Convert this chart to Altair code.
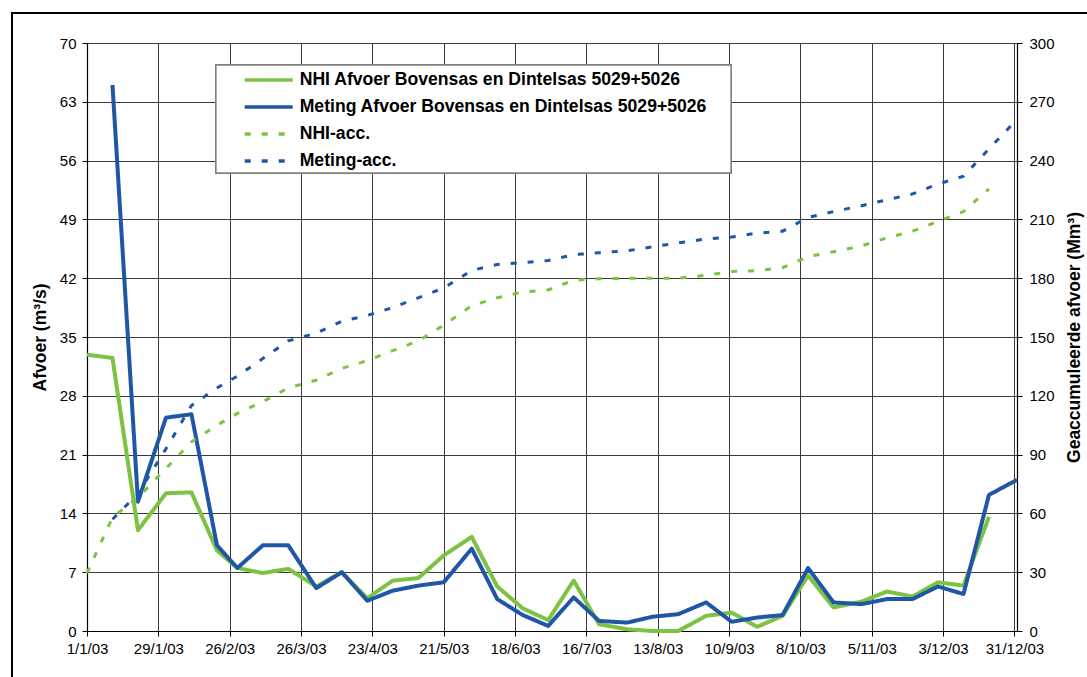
import altair as alt
import pandas as pd

GREEN = "#7DC242"
BLUE = "#1F57A6"
FONT = "Liberation Sans"

# Dekad dates (1st, 11th, 21st of every month)
nhi_dates = [
    "2003/01/01", "2003/01/11", "2003/01/21", "2003/02/01", "2003/02/11", "2003/02/21",
    "2003/03/01", "2003/03/11", "2003/03/21", "2003/04/01", "2003/04/11", "2003/04/21",
    "2003/05/01", "2003/05/11", "2003/05/21", "2003/06/01", "2003/06/11", "2003/06/21",
    "2003/07/01", "2003/07/11", "2003/07/21", "2003/08/01", "2003/08/11", "2003/08/21",
    "2003/09/01", "2003/09/11", "2003/09/21", "2003/10/01", "2003/10/11", "2003/10/21",
    "2003/11/01", "2003/11/11", "2003/11/21", "2003/12/01", "2003/12/11", "2003/12/21",
]
meting_dates = nhi_dates[1:] + ["2004/01/01"]

# Discharge (m3/s)
nhi_afvoer = [
    32.9, 32.5, 12.0, 16.4, 16.5, 9.6, 7.5, 6.9, 7.4, 5.3, 7.0, 3.9,
    6.0, 6.3, 9.0, 11.2, 5.3, 2.7, 1.3, 6.0, 0.8, 0.2, 0.0, 0.0,
    1.8, 2.2, 0.5, 1.8, 6.6, 2.8, 3.5, 4.7, 4.1, 5.8, 5.4, 13.6,
]
meting_afvoer = [
    65.0, 15.4, 25.4, 25.8, 10.2, 7.5, 10.2, 10.2, 5.1, 7.0, 3.6, 4.8,
    5.4, 5.8, 9.8, 3.8, 1.9, 0.6, 4.0, 1.2, 1.0, 1.7, 2.0, 3.4,
    1.1, 1.6, 1.9, 7.5, 3.4, 3.2, 3.8, 3.8, 5.3, 4.4, 16.2, 18.0,
]

# Accumulated discharge (Mm3)
nhi_acc = [
    29.5, 58.0, 68.0, 83.0, 96.5, 105.0, 111.0, 117.0, 124.0, 128.0, 134.0, 138.0,
    143.0, 148.0, 156.0, 166.0, 170.0, 173.0, 174.0, 179.0, 179.7, 180.0, 180.0, 180.0,
    181.5, 183.4, 183.8, 185.4, 191.0, 193.5, 196.5, 200.6, 204.0, 209.0, 214.0, 225.6,
]
meting_acc = [
    57.0, 70.0, 93.0, 115.0, 124.0, 130.0, 139.0, 148.0, 152.0, 158.0, 161.0, 165.0,
    170.0, 175.0, 184.0, 187.0, 188.0, 189.0, 192.0, 193.0, 194.0, 196.0, 198.0, 200.0,
    201.0, 203.0, 204.0, 211.0, 214.0, 217.0, 220.0, 223.0, 228.0, 232.0, 246.0, 261.0,
]

NHI_Q = "NHI Afvoer Bovensas en Dintelsas 5029+5026"
MET_Q = "Meting Afvoer Bovensas en Dintelsas 5029+5026"
NHI_ACC = "NHI-acc."
MET_ACC = "Meting-acc."
series_order = [NHI_Q, MET_Q, NHI_ACC, MET_ACC]

# Axis ticks every 28 days
tick_dates = [(2003, 1, 1), (2003, 1, 29), (2003, 2, 26), (2003, 3, 26), (2003, 4, 23),
              (2003, 5, 21), (2003, 6, 18), (2003, 7, 16), (2003, 8, 13), (2003, 9, 10),
              (2003, 10, 8), (2003, 11, 5), (2003, 12, 3), (2003, 12, 31)]
left_ticks = list(range(0, 71, 7))
right_ticks = list(range(0, 301, 30))

afvoer = pd.DataFrame({
    "datum": nhi_dates + meting_dates,
    "waarde": nhi_afvoer + meting_afvoer,
    "reeks": [NHI_Q] * len(nhi_afvoer) + [MET_Q] * len(meting_afvoer),
})
geacc = pd.DataFrame({
    "datum": nhi_dates + meting_dates,
    "waarde": nhi_acc + meting_acc,
    "reeks": [NHI_ACC] * len(nhi_acc) + [MET_ACC] * len(meting_acc),
})

x_enc = alt.X(
    "datum:T",
    title=None,
    scale=alt.Scale(domain=[alt.DateTime(year=2003, month=1, date=1),
                            alt.DateTime(year=2004, month=1, date=1)], nice=False),
    axis=alt.Axis(
        values=[alt.DateTime(year=y, month=m, date=d) for y, m, d in tick_dates],
        format="%-d/%-m/%y", grid=True, labelPadding=5, labelFlush=False,
        labelOverlap=False,
    ),
)

legend = alt.Legend(
    title=None, orient="none", legendX=155.7, legendY=23.6,
    symbolType="stroke", symbolSize=2300, symbolStrokeWidth=3.6,
    clipHeight=26.8, rowPadding=0, padding=0, labelOffset=5,
    labelFont=FONT, labelFontSize=17.6, labelFontWeight="bold", labelColor="black",
    labelLimit=800, direction="vertical",
)

color_enc = alt.Color("reeks:N", scale=alt.Scale(domain=series_order,
                                                 range=[GREEN, BLUE, GREEN, BLUE]),
                      legend=legend)
dash_enc = alt.StrokeDash("reeks:N", scale=alt.Scale(domain=series_order,
                                                     range=[[1, 0], [1, 0], [6, 11], [6, 11]]),
                          legend=legend)

afvoer_lines = alt.Chart(afvoer).mark_line(strokeWidth=4, strokeJoin="round").encode(
    x=x_enc,
    y=alt.Y("waarde:Q",
            scale=alt.Scale(domain=[0, 70], nice=False),
            axis=alt.Axis(values=left_ticks, title="Afvoer (m³/s)", grid=True,
                          titleX=-47, titleBaseline="middle", titleAngle=270,
                          labelPadding=6)),
    color=color_enc,
    strokeDash=dash_enc,
    detail="reeks:N",
)

acc_lines = alt.Chart(geacc).mark_line(strokeWidth=3, strokeCap="butt").encode(
    x=x_enc,
    y=alt.Y("waarde:Q",
            scale=alt.Scale(domain=[0, 300], nice=False),
            axis=alt.Axis(orient="right", values=right_ticks, grid=False,
                          title="Geaccumuleerde afvoer (Mm³)", titleAngle=270,
                          titleX=57, titleBaseline="middle", labelPadding=7)),
    color=color_enc,
    strokeDash=dash_enc,
    detail="reeks:N",
)

# White legend box and the outer chart frame (open on the right side)
legend_box = alt.Chart(afvoer).mark_rect(
    fill="white", stroke="#808080", strokeWidth=1.3
).encode(x=alt.value(129), x2=alt.value(644), y=alt.value(22), y2=alt.value(130))

frame = alt.Chart(afvoer).mark_rect(
    fill=None, stroke="black", strokeWidth=2
).encode(x=alt.value(-75), x2=alt.value(1030), y=alt.value(-30), y2=alt.value(660))

chart = alt.layer(frame, legend_box, afvoer_lines, acc_lines).resolve_scale(
    y="independent"
).properties(
    width=930, height=588,
    autosize=alt.AutoSizeParams(type="none"),
    padding={"left": 87, "top": 43, "right": 70, "bottom": 46},
    background="white",
).configure_view(stroke=None).configure_axis(
    labelFont=FONT, labelFontSize=15, labelColor="black",
    titleFont=FONT, titleFontSize=17.5, titleFontWeight="bold", titleColor="black",
    domainColor="black", domainWidth=1.2, tickColor="black", tickSize=5,
    gridColor="#3a3a3a", gridWidth=1, gridOpacity=1,
)

chart.save("out.html", embed_options={"renderer": "svg", "actions": False})
